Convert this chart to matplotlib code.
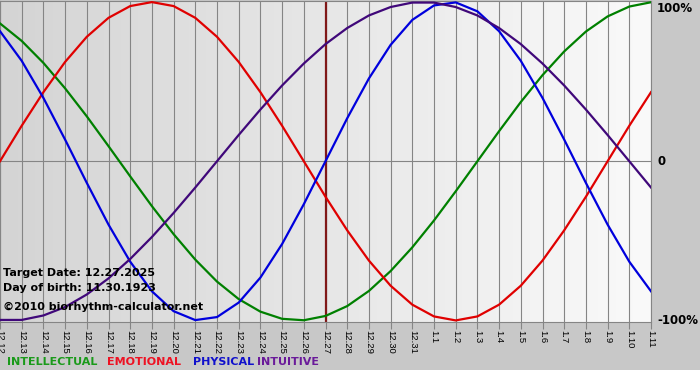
import numpy as np
import matplotlib
matplotlib.use("Agg")
import matplotlib.pyplot as plt
from matplotlib.colors import LinearSegmentedColormap

# days shown on the x axis (target date 12.27 is index 15)
dates = ["12.12", "12.13", "12.14", "12.15", "12.16", "12.17", "12.18", "12.19",
         "12.20", "12.21", "12.22", "12.23", "12.24", "12.25", "12.26", "12.27",
         "12.28", "12.29", "12.30", "12.31", "1.1", "1.2", "1.3", "1.4", "1.5",
         "1.6", "1.7", "1.8", "1.9", "1.10", "1.11"]
target_idx = 15

# cycle values per day, fraction of 100%
intellectual = [0.866, 0.756, 0.618, 0.458, 0.282, 0.095, -0.095, -0.282, -0.458,
                -0.618, -0.756, -0.866, -0.945, -0.990, -0.999, -0.972, -0.910,
                -0.815, -0.690, -0.541, -0.372, -0.189, 0.0, 0.189, 0.372, 0.541,
                0.690, 0.815, 0.910, 0.972, 0.999]
emotional = [0.0, 0.223, 0.434, 0.624, 0.782, 0.901, 0.975, 1.0, 0.975, 0.901,
             0.782, 0.624, 0.434, 0.223, 0.0, -0.223, -0.434, -0.624, -0.782,
             -0.901, -0.975, -1.0, -0.975, -0.901, -0.782, -0.624, -0.434, -0.223,
             0.0, 0.223, 0.434]
physical = [0.817, 0.631, 0.398, 0.136, -0.136, -0.398, -0.631, -0.817, -0.942,
            -0.998, -0.979, -0.888, -0.731, -0.520, -0.270, 0.0, 0.270, 0.520,
            0.731, 0.888, 0.979, 0.998, 0.942, 0.817, 0.631, 0.398, 0.136, -0.136,
            -0.398, -0.631, -0.817]
intuitive = [-0.997, -0.997, -0.969, -0.916, -0.837, -0.736, -0.614, -0.476, -0.325,
             -0.165, 0.0, 0.165, 0.325, 0.476, 0.614, 0.736, 0.837, 0.916, 0.969,
             0.997, 0.997, 0.969, 0.916, 0.837, 0.736, 0.614, 0.476, 0.325, 0.165,
             0.0, -0.165]

series = [("INTELLECTUAL", intellectual, "#008000", "#1a9a1a"),
          ("EMOTIONAL", emotional, "#e00000", "#ee1122"),
          ("PHYSICAL", physical, "#0000dd", "#1010cc"),
          ("INTUITIVE", intuitive, "#40087a", "#6a1a9a")]
legend_x = [7, 107, 193, 257]  # pixel starts of the legend words

W, H = 700, 380
fig = plt.figure(figsize=(W / 100, H / 100), dpi=100, facecolor="#c8c8c8")
# white strip at the very bottom
fig.patches.append(plt.Rectangle((0, 0), 1, 10 / H, transform=fig.transFigure,
                                 facecolor="white", edgecolor="none"))

ax = fig.add_axes([0, 1 - 322 / H, 651 / W, 321.5 / H])
x = np.arange(len(dates))
ax.set_xlim(0, len(dates) - 1)
ax.set_ylim(-1.01, 1.01)

grad = LinearSegmentedColormap.from_list("bg", ["#d4d4d4", "#fafafa"])
ax.imshow(np.linspace(0, 1, 256).reshape(1, -1), extent=[0, len(dates) - 1, -1.01, 1.01],
          aspect="auto", cmap=grad, zorder=0)

for xi in x:
    ax.axvline(xi, color="#858585", lw=0.8, zorder=1)
ax.axhline(0, color="#858585", lw=0.8, zorder=1)
ax.axvline(target_idx, color="#801818", lw=1.6, zorder=2)

for name, vals, col, _ in series:
    ax.plot(x, vals, color=col, lw=1.6, zorder=3, solid_joinstyle="round")

for sp in ax.spines.values():
    sp.set_color("#858585")
    sp.set_linewidth(0.8)

ax.set_yticks([])
ax.set_xticks(x)
ax.set_xticklabels(dates, rotation=-90, fontsize=6.8, family="Liberation Sans")
ax.tick_params(axis="x", direction="out", length=5, width=0.8, color="#858585", pad=1)

ytr = ax.get_yaxis_transform()
ax.text(1.0 + 6 / 651, 1.0, "100%", transform=ytr, fontsize=8.5, fontweight="bold",
        va="top", ha="left", clip_on=False)
ax.text(1.0 + 6 / 651, 0, "0", transform=ytr, fontsize=8.5, fontweight="bold",
        va="center", ha="left", clip_on=False)
ax.text(1.0 + 6 / 651, -1.0, "-100%", transform=ytr, fontsize=8.5, fontweight="bold",
        va="center", ha="left", clip_on=False)

info = ["Target Date: 12.27.2025", "Day of birth: 11.30.1923",
        "\u00a92010 biorhythm-calculator.net"]
info_y = [273, 288, 307]
for txt, yy in zip(info, info_y):
    fig.text(3 / W, 1 - yy / H, txt, fontsize=8, fontweight="bold", va="center",
             ha="left", zorder=10)

for (name, _, _, lcol), lx in zip(series, legend_x):
    fig.text(lx / W, 1 - 362 / H, name, color=lcol, fontsize=8, fontweight="bold",
             va="center", ha="left")

fig.savefig("out.png", dpi=100, facecolor=fig.get_facecolor())
